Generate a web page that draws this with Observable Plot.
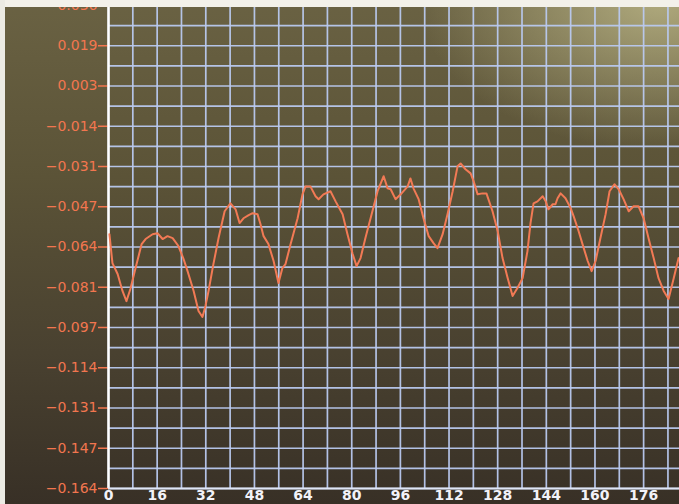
<!DOCTYPE html>
<html>
<head>
<meta charset="utf-8">
<script src="https://cdn.jsdelivr.net/npm/d3@7"></script>
<script src="https://cdn.jsdelivr.net/npm/@observablehq/plot@0.6"></script>
<style>
  html, body { margin: 0; padding: 0; }
  body {
    width: 679px; height: 504px; overflow: hidden; position: relative;
    background:
      radial-gradient(ellipse 240px 150px at 97% 0%, rgba(205,200,150,0.7), rgba(205,200,150,0) 100%),
      linear-gradient(to bottom, #6a6243 0%, #5b5337 35%, #494130 70%, #383026 100%);
  }
  #chart { position: absolute; left: 0; top: 0; }
  .band-top { position: absolute; left: 0; top: 0; width: 679px; height: 7px; background: #f3f1ea; }
  .band-left { position: absolute; left: 0; top: 0; width: 5px; height: 504px; background: #ecebe4; }
</style>
</head>
<body>
<div id="chart"></div>
<div class="band-top"></div>
<div class="band-left"></div>
<script>
// Sample index (x) and signal value (y)
const xs = [0.3,1.3,3.0,4.6,5.9,7.2,8.9,10.9,12.2,14.5,16.1,17.8,19.4,21.1,23.0,24.7,26.0,27.0,28.0,29.6,
  30.9,31.9,32.9,34.5,36.2,38.2,40.1,41.8,43.1,44.4,46.1,47.4,49.0,50.0,51.0,52.6,54.3,55.9,57.2,58.2,
  59.9,62.2,63.8,64.8,66.4,68.1,69.1,70.7,73.0,74.7,77.0,78.6,80.3,81.6,82.9,84.5,86.8,88.5,90.5,91.8,
  92.8,94.4,96.1,98.4,99.3,100.3,102.0,103.6,105.3,106.9,108.2,109.9,111.5,113.2,114.8,115.8,117.4,119.1,120.1,121.4,
  123.0,124.3,126.3,128.0,129.6,131.3,132.9,134.5,136.2,137.8,138.8,139.8,141.1,142.8,143.8,144.7,146.1,147.0,147.7,148.7,
  150.3,152.0,153.0,154.6,155.9,157.6,158.9,160.2,161.8,163.5,164.8,166.4,167.8,169.4,171.1,172.7,174.3,176.0,177.6,179.3,
  180.9,182.6,184.2,185.9,187.5];
const ys = [-0.0587,-0.0707,-0.0752,-0.0822,-0.0864,-0.0814,-0.0727,-0.0628,-0.0607,-0.0587,-0.0583,-0.0607,-0.0595,-0.0603,-0.0636,-0.0690,-0.0740,-0.0781,-0.0822,-0.0905,
  -0.0930,-0.0884,-0.0822,-0.0711,-0.0603,-0.0492,-0.0459,-0.0484,-0.0541,-0.0521,-0.0508,-0.0500,-0.0504,-0.0546,-0.0595,-0.0628,-0.0698,-0.0789,-0.0727,-0.0711,
  -0.0628,-0.0521,-0.0422,-0.0389,-0.0389,-0.0430,-0.0442,-0.0422,-0.0409,-0.0451,-0.0504,-0.0587,-0.0669,-0.0719,-0.0686,-0.0603,-0.0492,-0.0409,-0.0347,-0.0397,
  -0.0401,-0.0442,-0.0422,-0.0389,-0.0356,-0.0397,-0.0442,-0.0521,-0.0595,-0.0624,-0.0645,-0.0587,-0.0504,-0.0409,-0.0306,-0.0294,-0.0318,-0.0335,-0.0368,-0.0422,
  -0.0418,-0.0418,-0.0492,-0.0574,-0.0686,-0.0769,-0.0843,-0.0810,-0.0769,-0.0657,-0.0541,-0.0459,-0.0451,-0.0430,-0.0451,-0.0484,-0.0463,-0.0463,-0.0438,-0.0418,
  -0.0438,-0.0479,-0.0513,-0.0574,-0.0628,-0.0698,-0.0740,-0.0698,-0.0603,-0.0504,-0.0409,-0.0380,-0.0401,-0.0442,-0.0492,-0.0471,-0.0471,-0.0521,-0.0603,-0.0686,
  -0.0769,-0.0822,-0.0855,-0.0769,-0.0686];

const xTicks = [0, 16, 32, 48, 64, 80, 96, 112, 128, 144, 160, 176];
const xGrid = [0, 8, 16, 24, 32, 40, 48, 56, 64, 72, 80, 88, 96, 104, 112, 120, 128, 136, 144, 152, 160, 168, 176, 184];
const yTicks = [0.036, 0.01933, 0.00267, -0.01400, -0.03067, -0.04733, -0.06400, -0.08067, -0.09733, -0.11400, -0.13067, -0.14733, -0.164];
const yGrid = [0.036, 0.02767, 0.01933, 0.01100, 0.00267, -0.00567, -0.01400, -0.02233, -0.03067, -0.03900, -0.04733, -0.05567,
  -0.06400, -0.07233, -0.08067, -0.08900, -0.09733, -0.10567, -0.11400, -0.12233, -0.13067, -0.13900, -0.14733, -0.15567, -0.164];

const data = xs.map((x, i) => ({x, y: ys[i]}));
const gridColor = "#b9c9ef";

const chart = Plot.plot({
  width: 679,
  height: 504,
  marginLeft: 108,
  marginRight: 0,
  marginTop: 5,
  marginBottom: 16,
  style: {background: "transparent", overflow: "visible"},
  x: {domain: [0, 187.8]},
  y: {domain: [-0.164, 0.036]},
  marks: [
    Plot.ruleY(yGrid, {stroke: gridColor, strokeWidth: 1.7, strokeOpacity: 0.95}),
    Plot.ruleX(xGrid, {stroke: gridColor, strokeWidth: 1.7, strokeOpacity: 0.95}),
    Plot.axisY({ticks: yTicks, tickFormat: d3.format(".3f"), tickSize: 10, tickPadding: 1,
      stroke: "#f2764f", fill: "#f2764f", fontSize: 14, fontFamily: "DejaVu Sans", label: null, strokeWidth: 1.5}),
    Plot.axisX({ticks: xTicks, tickFormat: d => String(d), tickSize: 0, tickPadding: 2,
      fill: "#f2f2f8", fontSize: 14, fontWeight: "bold", fontFamily: "DejaVu Sans", label: null}),
    Plot.ruleX([0], {stroke: "#ffffff", strokeWidth: 2.5}),
    Plot.ruleY([-0.164], {stroke: "#dfe6f7", strokeWidth: 2}),
    Plot.line(data, {x: "x", y: "y", stroke: "#f27a55", strokeWidth: 2, curve: "linear"})
  ]
});
document.getElementById("chart").append(chart);
</script>
</body>
</html>
